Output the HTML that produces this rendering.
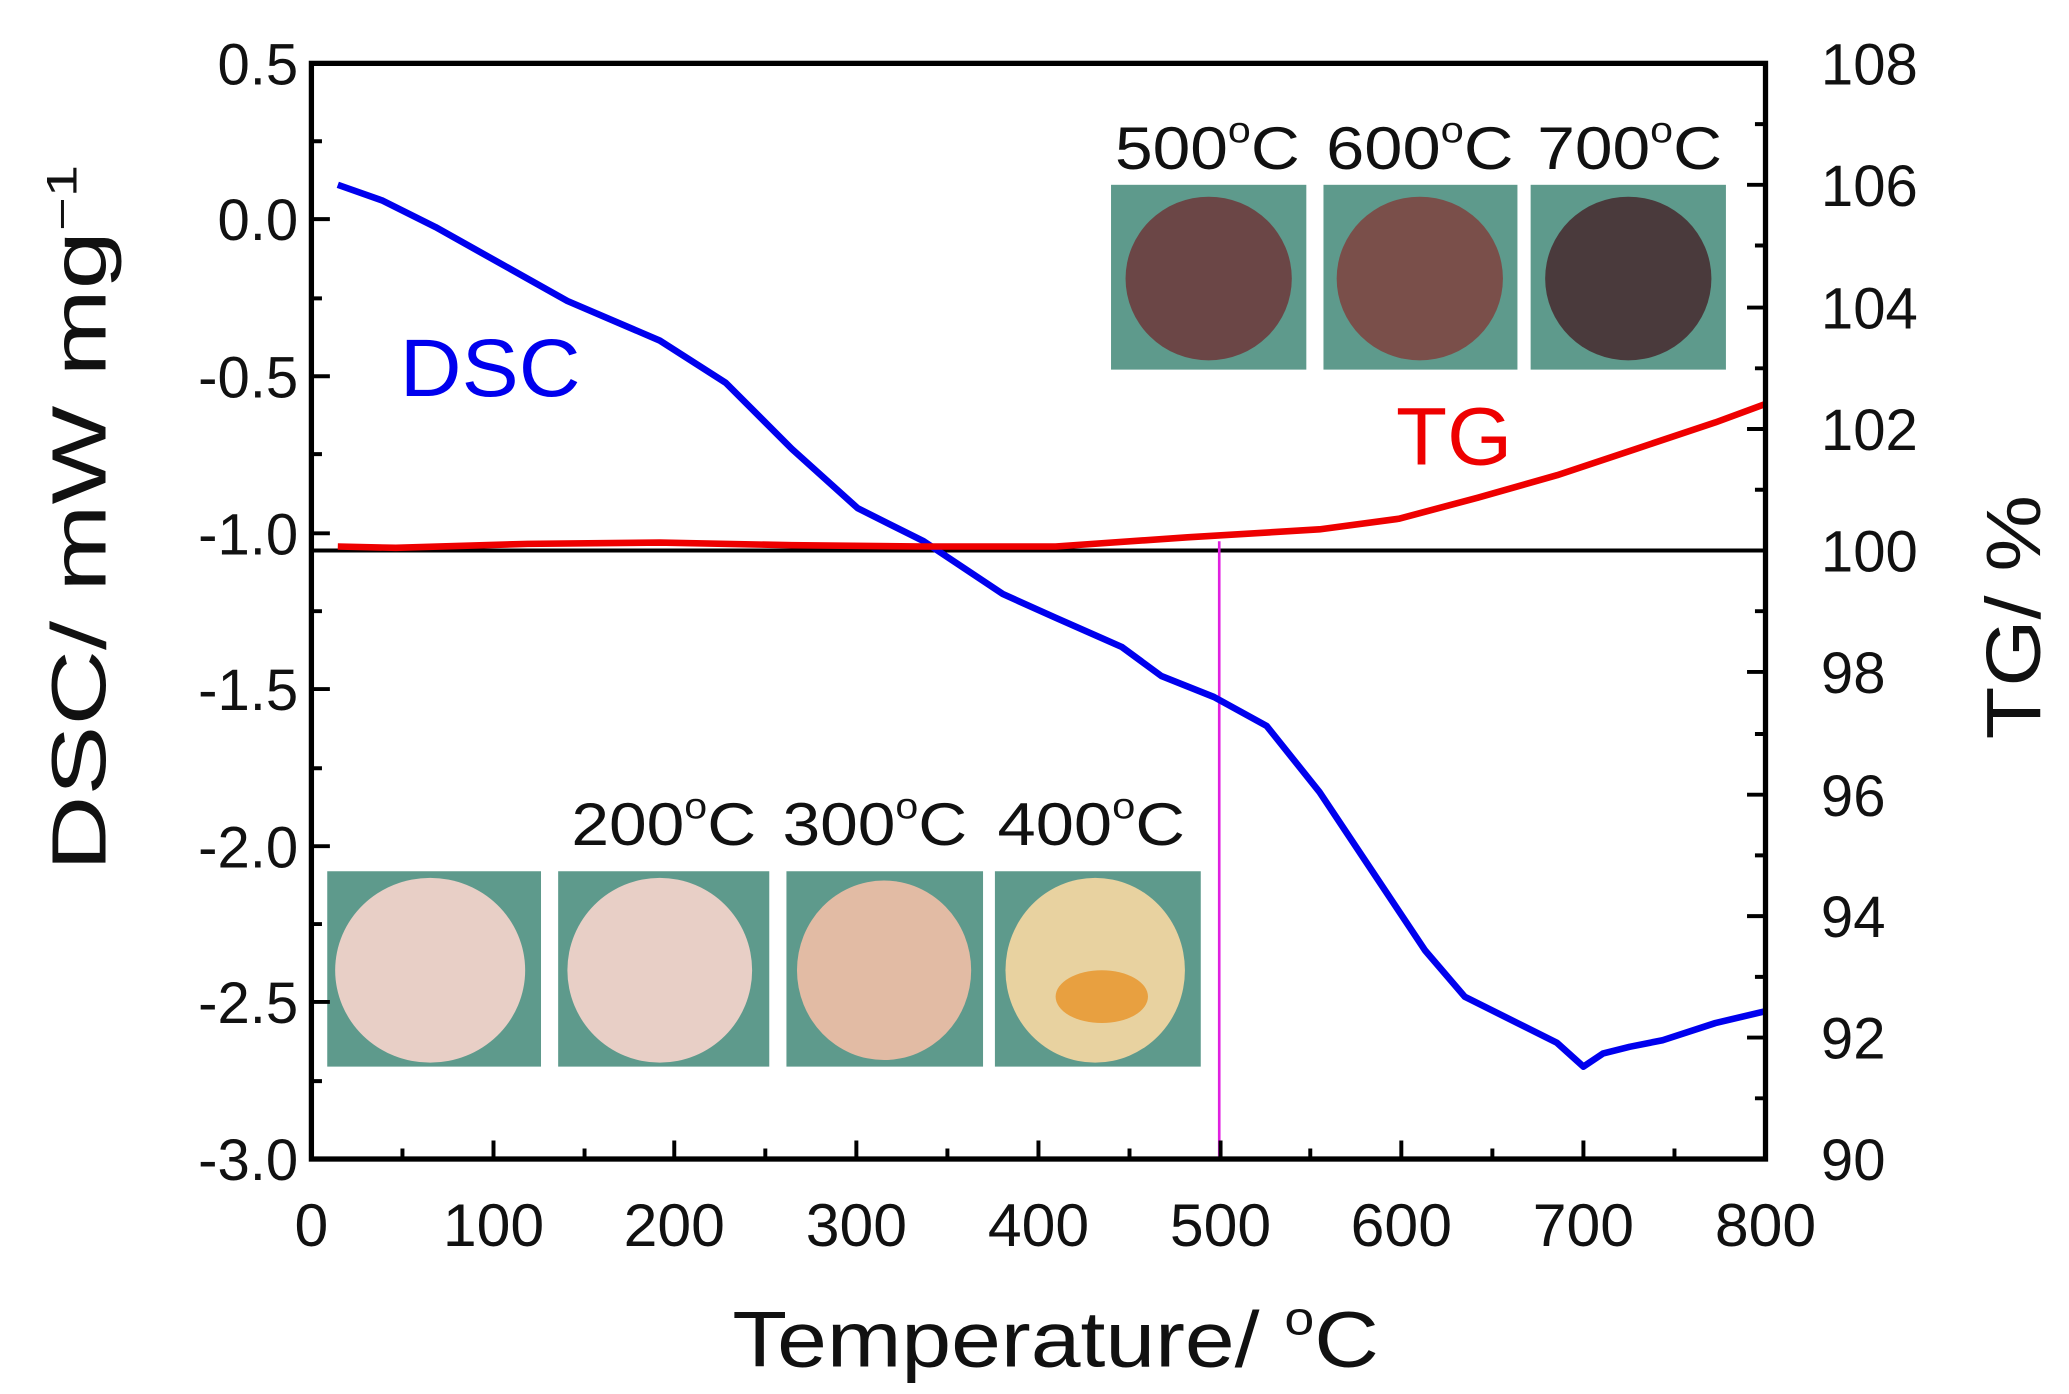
<!DOCTYPE html>
<html><head><meta charset="utf-8"><style>html,body{margin:0;padding:0;background:#fff}svg{display:block}text{font-family:"Liberation Sans",sans-serif}</style></head><body>
<svg width="2069" height="1394" viewBox="0 0 1568 1056" preserveAspectRatio="none" xmlns="http://www.w3.org/2000/svg">
<rect width="1568" height="1056" fill="#fff"/>
<g>
<rect x="842" y="140" width="148" height="140" fill="#5e9a8c"/><ellipse cx="916" cy="211" rx="63" ry="62" fill="#6b4646"/>
<rect x="1003" y="140" width="147" height="140" fill="#5e9a8c"/><ellipse cx="1076" cy="211" rx="63" ry="62" fill="#7a4f4a"/>
<rect x="1160" y="140" width="148" height="140" fill="#5e9a8c"/><ellipse cx="1234" cy="211" rx="63" ry="62" fill="#4a3a3c"/>
<rect x="248" y="660" width="162" height="148" fill="#5e9a8c"/><ellipse cx="326" cy="735" rx="72" ry="70" fill="#e8cfc6"/>
<rect x="423" y="660" width="160" height="148" fill="#5e9a8c"/><ellipse cx="500" cy="735" rx="70" ry="70" fill="#e8cfc6"/>
<rect x="596" y="660" width="149" height="148" fill="#5e9a8c"/><ellipse cx="670" cy="735" rx="66" ry="68" fill="#e2bba4"/>
<rect x="754" y="660" width="156" height="148" fill="#5e9a8c"/><ellipse cx="830" cy="735" rx="68" ry="70" fill="#e8d2a0"/><ellipse cx="835" cy="755" rx="35" ry="20" fill="#e8a040"/>
</g>
<g font-size="46" fill="#111">
<text x="845" y="128" textLength="140" lengthAdjust="spacingAndGlyphs">500<tspan font-size="28" dy="-20">o</tspan><tspan dy="20">C</tspan></text>
<text x="1005" y="128" textLength="142" lengthAdjust="spacingAndGlyphs">600<tspan font-size="28" dy="-20">o</tspan><tspan dy="20">C</tspan></text>
<text x="1165" y="128" textLength="140" lengthAdjust="spacingAndGlyphs">700<tspan font-size="28" dy="-20">o</tspan><tspan dy="20">C</tspan></text>
<text x="433" y="640" textLength="140" lengthAdjust="spacingAndGlyphs">200<tspan font-size="28" dy="-20">o</tspan><tspan dy="20">C</tspan></text>
<text x="593" y="640" textLength="140" lengthAdjust="spacingAndGlyphs">300<tspan font-size="28" dy="-20">o</tspan><tspan dy="20">C</tspan></text>
<text x="756" y="640" textLength="142" lengthAdjust="spacingAndGlyphs">400<tspan font-size="28" dy="-20">o</tspan><tspan dy="20">C</tspan></text>
</g>
<line x1="236" y1="417" x2="1338" y2="417" stroke="#000" stroke-width="3"/>
<line x1="924" y1="410" x2="924" y2="878" stroke="#e020e0" stroke-width="2"/>
<polyline fill="none" stroke="#0000ee" stroke-width="5" stroke-linejoin="round" points="256,140 290,152 330,172 380,200 430,228 500,258 550,290 600,340 650,385 700,410 730,430 760,450 800,468 850,490 880,512 920,528 960,550 1000,600 1040,660 1080,720 1110,755 1150,775 1180,790 1200,808 1215,798 1235,793 1260,788 1300,775 1338,766"/>
<polyline fill="none" stroke="#ee0000" stroke-width="5" stroke-linejoin="round" points="256,414 300,415 400,412 500,411 600,413 700,414 800,414 900,407 1000,401 1060,393 1120,377 1180,360 1240,340 1300,320 1338,306"/>
<text x="303" y="300" font-size="62" fill="#0000ee" textLength="137" lengthAdjust="spacingAndGlyphs">DSC</text>
<text x="1058" y="352" font-size="62" fill="#ee0000" textLength="88" lengthAdjust="spacingAndGlyphs">TG</text>
<rect x="236" y="48" width="1102" height="830" fill="none" stroke="#000" stroke-width="4"/>
<g stroke="#000" stroke-width="3">
<path d="M236,48h14M236,166h14M236,285h14M236,404h14M236,522h14M236,641h14M236,759h14M236,878h14"/>
<path d="M236,107h8M236,226h8M236,344h8M236,463h8M236,582h8M236,700h8M236,819h8"/>
<path d="M1338,48h-14M1338,140h-14M1338,233h-14M1338,325h-14M1338,417h-14M1338,509h-14M1338,602h-14M1338,694h-14M1338,786h-14M1338,878h-14"/>
<path d="M1338,94h-8M1338,186h-8M1338,279h-8M1338,371h-8M1338,463h-8M1338,556h-8M1338,648h-8M1338,740h-8M1338,832h-8"/>
<path d="M236,878v-14M374,878v-14M511,878v-14M649,878v-14M787,878v-14M925,878v-14M1062,878v-14M1200,878v-14M1338,878v-14"/>
<path d="M305,878v-8M443,878v-8M580,878v-8M718,878v-8M856,878v-8M993,878v-8M1131,878v-8M1269,878v-8"/>
</g>
<g font-size="44" fill="#111" text-anchor="end">
<text x="226" y="64">0.5</text><text x="226" y="182">0.0</text><text x="226" y="301">-0.5</text><text x="226" y="420">-1.0</text><text x="226" y="538">-1.5</text><text x="226" y="657">-2.0</text><text x="226" y="775">-2.5</text><text x="226" y="894">-3.0</text>
</g>
<g font-size="44" fill="#111">
<text x="1380" y="64">108</text><text x="1380" y="156">106</text><text x="1380" y="249">104</text><text x="1380" y="341">102</text><text x="1380" y="433">100</text><text x="1380" y="525">98</text><text x="1380" y="618">96</text><text x="1380" y="710">94</text><text x="1380" y="802">92</text><text x="1380" y="894">90</text>
</g>
<g font-size="46" fill="#111" text-anchor="middle">
<text x="236" y="944">0</text><text x="374" y="944">100</text><text x="511" y="944">200</text><text x="649" y="944">300</text><text x="787" y="944">400</text><text x="925" y="944">500</text><text x="1062" y="944">600</text><text x="1200" y="944">700</text><text x="1338" y="944">800</text>
</g>
<text x="555" y="1035" font-size="60" fill="#111" textLength="490" lengthAdjust="spacingAndGlyphs">Temperature/ <tspan font-size="36" dy="-24">o</tspan><tspan dy="24">C</tspan></text>
<text transform="translate(80,660) rotate(-90)" font-size="58" fill="#111" textLength="535" lengthAdjust="spacingAndGlyphs">DSC/ mW mg<tspan font-size="32" dy="-22">−1</tspan></text>
<text transform="translate(1546,560) rotate(-90)" font-size="58" fill="#111" textLength="185" lengthAdjust="spacingAndGlyphs">TG/ %</text>
</svg>
</body></html>
